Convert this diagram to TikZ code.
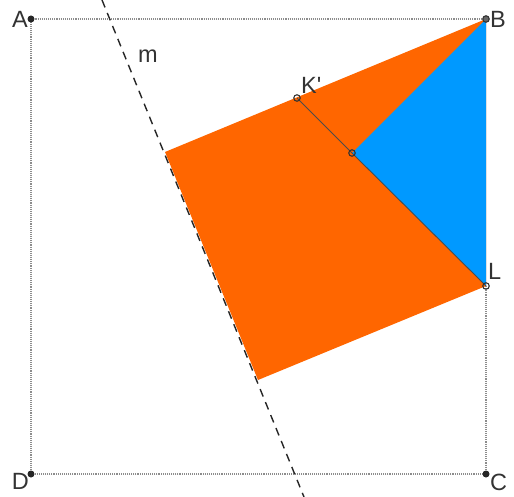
\documentclass[tikz,border=0pt]{standalone}
\usepackage{fontspec}
\setmainfont{Liberation Sans}
\definecolor{gorange}{HTML}{FF6600}
\definecolor{gblue}{HTML}{0099FF}
\definecolor{gdot}{HTML}{8C8C8C}
\begin{document}
\begin{tikzpicture}[x=1pt,y=-1pt,
  sq/.style={gdot,densely dotted,line width=1.1pt},
  fdot/.style={circle,fill=black!85,inner sep=0pt,minimum size=7pt},
  odot/.style={circle,draw=black!80,line width=1.1pt,inner sep=0pt,minimum size=6.5pt},
  lab/.style={font=\fontsize{23.5}{23.5}\selectfont,text=black!80,inner sep=1pt},
  seg/.style={draw=black!70,line width=0.9pt}]
\useasboundingbox (0,0) rectangle (514,497);
\coordinate (A) at (31,19);
\coordinate (B) at (486,19);
\coordinate (C) at (486,474);
\coordinate (D) at (31,474);
\coordinate (L) at (486,286);
\coordinate (K) at (297,98);
\coordinate (M) at (352,153);
\coordinate (P) at (165,152);
\coordinate (Q) at (258,380);
\coordinate (m1) at (102,0);
\coordinate (m2) at (304,497);
% dotted square
\draw[sq] (L) -- (C) -- (D) -- (A) -- (B);
% fills
\fill[gorange] (B) -- (P) -- (Q) -- (L) -- cycle;
\fill[gblue] (B) -- (M) -- (L) -- cycle;
% segments
\draw[seg] (K) -- (M) -- (L);
% line m
\draw[dash pattern=on 8pt off 6pt,line width=1.4pt,black!85] (m1) -- (m2);
% points
\node[fdot] (nA) at (A) {};
\node[fdot] (nC) at (C) {};
\node[fdot] (nD) at (D) {};
\node[odot,fill=black!60] (nB) at (B) {};
\node[odot] (nK) at (K) {};
\node[odot] (nM) at (M) {};
\node[odot] (nL) at (L) {};
% labels
\node[lab,anchor=east] at (29,19) {A};
\node[lab,anchor=west] at (489,19) {B};
\node[lab,anchor=west] at (489,482) {C};
\node[lab,anchor=east] at (30,481) {D};
\node[lab,anchor=south west] at (487,281) {L};
\node[lab,anchor=south west] at (300,95) {K\textquotesingle};
\node[lab] at (148,56) {m};
\end{tikzpicture}
\end{document}
